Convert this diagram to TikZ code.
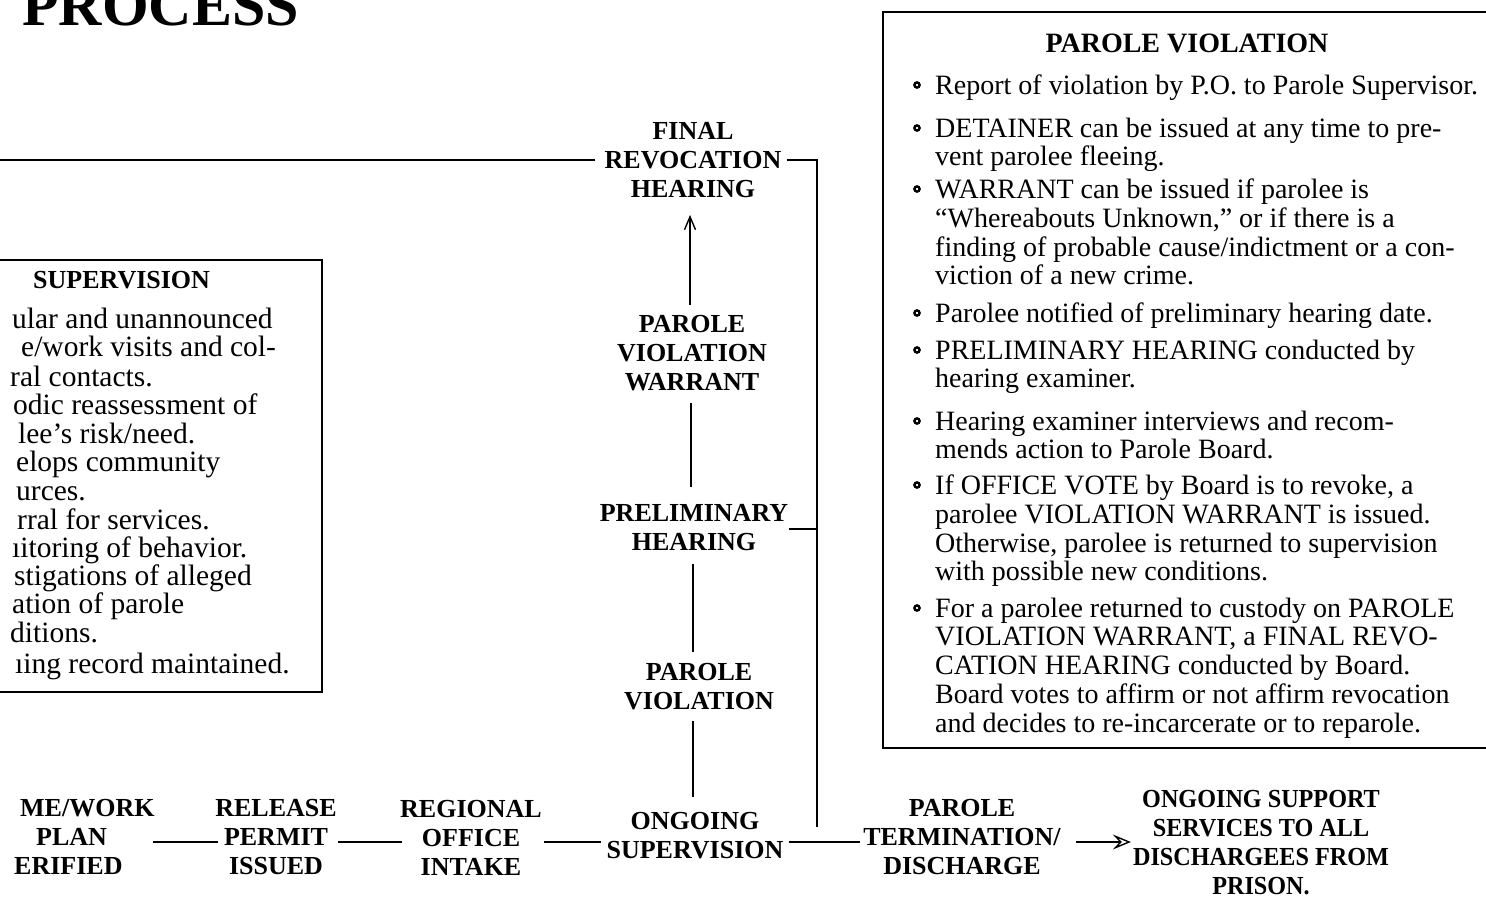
\documentclass[tikz,border=0pt]{standalone}
\usepackage{fontspec}
\setmainfont{Liberation Serif}
\newfontfamily\narrowserif[FakeStretch=0.93]{Liberation Serif}
\usetikzlibrary{arrows.meta}
\newcommand\labfont{\fontsize{26}{29}\selectfont\bfseries}
\newcommand\bodyfont{\fontsize{28}{28.8}\selectfont}
\newcommand\leftfont{\fontsize{29.5}{28.8}\selectfont}
\begin{document}
\begin{tikzpicture}[x=1pt,y=-1pt,
  lab/.style={font=\labfont, align=center, inner sep=0pt},
  item/.style={font=\bodyfont, align=left, inner sep=0pt, anchor=north west,
    execute at begin node={\rule{0pt}{20pt}}},
  lline/.style={font=\leftfont, inner sep=0pt, anchor=base west},
  conn/.style={line width=2pt},
  frame/.style={line width=1.8pt},
  bul/.style={line width=2.4pt}]
\useasboundingbox (0,0) rectangle (1486,901);
\fill[white] (0,0) rectangle (1486,901);

% title (cut off at the top, as in the original page)
\node[font=\fontsize{60}{60}\selectfont\bfseries, anchor=base west, inner sep=0pt] (title) at (22,26) {PROCESS};

% ---------- right box: PAROLE VIOLATION ----------
\draw[frame] (1486,12) -- (883,12) -- (883,748) -- (1486,748);
\node[lab, font=\fontsize{28}{30}\selectfont\bfseries] (pvtitle) at (1187,43) {PAROLE VIOLATION};
\foreach \yy in {85,128,189,313,350,421,485,608}
  \draw[bul] (917,\yy) circle (2.6pt);
\node[item] (i1) at (935,74.5) {Report of violation by P.O. to Parole Supervisor.};
\node[item] (i2) at (935,117.5) {DETAINER can be issued at any time to pre-\\vent parolee fleeing.};
\node[item] (i3) at (935,178.5) {WARRANT can be issued if parolee is\\``Whereabouts Unknown,'' or if there is a\\finding of probable cause/indictment or a con-\\viction of a new crime.};
\node[item] (i4) at (935,302.5) {Parolee notified of preliminary hearing date.};
\node[item] (i5) at (935,339.5) {PRELIMINARY HEARING conducted by\\hearing examiner.};
\node[item] (i6) at (935,410.5) {Hearing examiner interviews and recom-\\mends action to Parole Board.};
\node[item] (i7) at (935,474.5) {If OFFICE VOTE by Board is to revoke, a\\parolee VIOLATION WARRANT is issued.\\Otherwise, parolee is returned to supervision\\with possible new conditions.};
\node[item] (i8) at (935,597.5) {For a parolee returned to custody on PAROLE\\VIOLATION WARRANT, a FINAL REVO-\\CATION HEARING conducted by Board.\\Board votes to affirm or not affirm revocation\\and decides to re-incarcerate or to reparole.};

% ---------- left box: SUPERVISION ----------
\draw[frame] (0,260) -- (322,260) -- (322,692) -- (0,692);
\node[lab, anchor=west] (svtitle) at (33,280) {SUPERVISION};
\foreach \xx/\yy/\txt [count=\i] in {
  12/320/{ular and unannounced},
  21/348/{e/work visits and col-},
  10/378/{ral contacts.},
  13/406/{odic reassessment of},
  18/435/{lee’s risk/need.},
  16/463/{elops community},
  16/492/{urces.},
  17/521/{rral for services.},
  12/549/{ıitoring of behavior.},
  14/577/{stigations of alleged},
  12/605/{ation of parole},
  10/634/{ditions.},
  15/665/{ıing record maintained.}}
  \node[lline] (sv\i) at (\xx,\yy+8) {\txt};

% ---------- flow nodes ----------
\node[lab] (frh) at (693,160) {FINAL\\REVOCATION\\HEARING};
\node[lab] (pvw) at (692,353) {PAROLE\\VIOLATION\\WARRANT};
\node[lab] (prh) at (694,527.5) {PRELIMINARY\\HEARING};
\node[lab] (pv) at (699,687) {PAROLE\\VIOLATION};
\node[lab] (os) at (695,836) {ONGOING\\SUPERVISION};
\node[lab, align=left, anchor=west] (hwp) at (14,837) {\hspace*{6pt}ME/WORK\\\hspace*{22pt}PLAN\\ERIFIED};
\node[lab] (rpi) at (276,837) {RELEASE\\PERMIT\\ISSUED};
\node[lab] (roi) at (471,838) {REGIONAL\\OFFICE\\INTAKE};
\node[lab] (ptd) at (962,837) {PAROLE\\TERMINATION/\\DISCHARGE};
\node[lab, font=\narrowserif\fontsize{26}{29}\selectfont\bfseries] (oss) at (1261,843) {ONGOING SUPPORT\\SERVICES TO ALL\\DISCHARGEES FROM\\PRISON.};

\coordinate (col) at (693,0);
\coordinate (colb) at (691,0);
\coordinate (colc) at (690,0);
\coordinate (brk) at (817,827);
\coordinate (lft) at (0,160);

% ---------- connectors ----------
\draw[conn] ([xshift=-2pt,yshift=-5pt]hwp.east) -- ([xshift=3pt,yshift=-5pt]rpi.west);
\draw[conn] ([xshift=1pt,yshift=-5pt]rpi.east) -- ([xshift=2pt,yshift=-4pt]roi.west);
\draw[conn] ([xshift=2pt,yshift=-4pt]roi.east) -- ([xshift=-5pt,yshift=-6pt]os.west);
\draw[conn] ([xshift=5pt,yshift=-6pt]os.east) -- ([xshift=-3pt,yshift=-5pt]ptd.west);
\draw[conn,-{Stealth[open,length=18pt,width=15pt,inset=7pt,line width=1.4pt]}]
  ([xshift=15pt,yshift=-5pt]ptd.east) -- ([xshift=-2pt,yshift=1pt]oss.west);

\draw[conn] ([yshift=16pt]col |- os.north) -- ([yshift=-10pt]col |- pv.south);
\draw[conn] ([yshift=11pt]col |- pv.north) -- ([yshift=-13pt]col |- prh.south);
\draw[conn] ([yshift=17pt]colb |- prh.north) -- ([yshift=-12pt]colb |- pvw.south);
\draw[conn,-{Straight Barb[length=13pt,width=11pt,line width=1.4pt]}]
  ([yshift=10pt]colc |- pvw.north) -- ([yshift=-17pt]colc |- frh.south);

\draw[conn] ([xshift=5pt]frh.east) -| (brk);
\draw[conn] ([xshift=1pt,yshift=-1.5pt]prh.east) -- ([yshift=-1.5pt]prh.east -| brk);
\draw[conn] ([xshift=-9pt]frh.west) -- (frh.west -| lft);
\end{tikzpicture}
\end{document}
